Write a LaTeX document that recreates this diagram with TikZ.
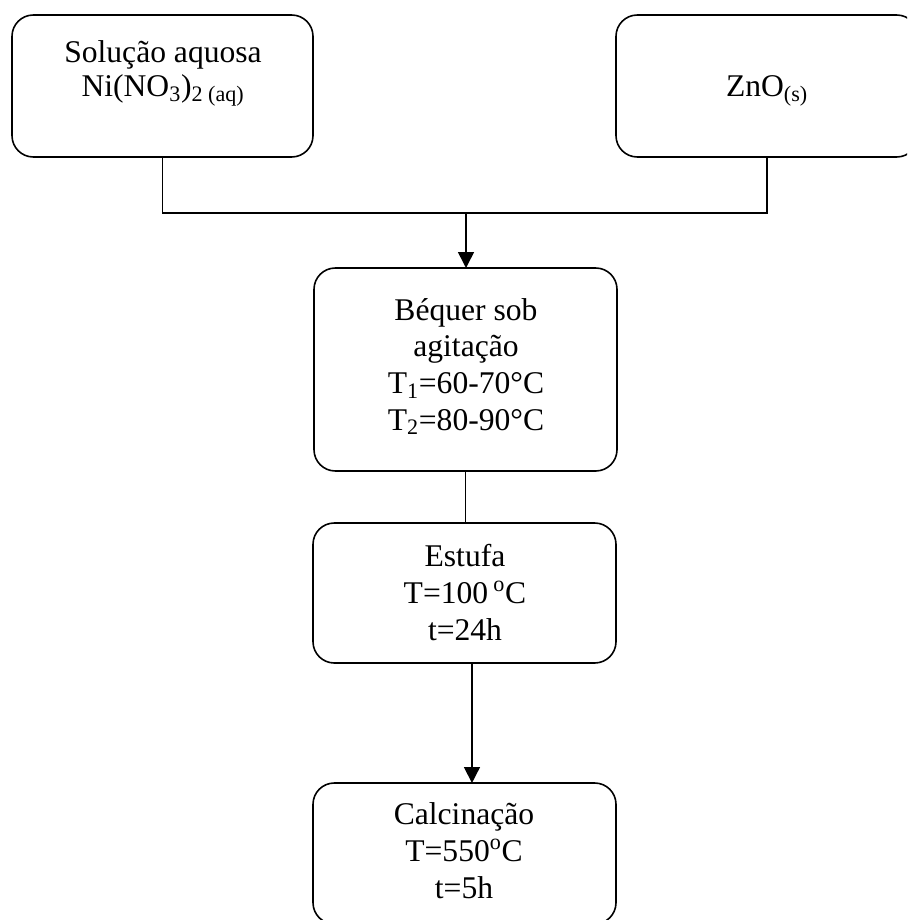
\documentclass[tikz,border=0pt]{standalone}
\usepackage{fontspec}
\setmainfont{Liberation Serif}
\usetikzlibrary{arrows.meta}
\begin{document}
\begin{tikzpicture}[x=0.75pt,y=-0.75pt,
  box/.style={draw,line width=1.2pt,rounded corners=16pt,inner sep=0pt,outer sep=0pt},
  txt/.style={anchor=base,align=center,inner sep=0pt,font=\fontsize{23.7}{27.4}\selectfont},
  conn/.style={line width=1.2pt},
  arr/.style={line width=1.2pt,-{Triangle[length=12pt,width=12pt]}}]
\useasboundingbox (0,0) rectangle (907,920);
\begin{scope}
\clip (0,0) rectangle (907,920);
\node[box,minimum width=225.75pt,minimum height=106.5pt] (b1) at (162.5,86) {};
\node[box,minimum width=226.5pt,minimum height=106.5pt] (b2) at (767,86) {};
\node[box,minimum width=227.25pt,minimum height=152.25pt] (b3) at (465.5,369.5) {};
\node[box,minimum width=227.25pt,minimum height=105pt] (b4) at (464.5,593) {};
\node[box,minimum width=227.25pt,minimum height=105.75pt] (b5) at (464.5,853.5) {};
\end{scope}
\node[txt,font=\fontsize{23.7}{25.5}\selectfont] (t1) at (163,97) {Solução aquosa\\Ni(NO\textsubscript{3})\textsubscript{2 (aq)}};
\node[txt] (t2) at (767,97) {ZnO\textsubscript{(s)}};
\node[txt] (t3) at (466,430) {Béquer sob\\agitação\\T\textsubscript{1}=60-70°C\\T\textsubscript{2}=80-90°C};
\node[txt] (t4) at (465,640) {Estufa\\T=100\,\textsuperscript{o}C\\t=24h};
\node[txt] (t5) at (464,898) {Calcinação\\T=550\textsuperscript{o}C\\t=5h};
\coordinate (j) at (466,213);
\draw[conn] (b1.south) |- (j) -| (b2.south);
\draw[arr] (j) -- (j |- b3.north);
\draw[conn] (b3.south) -- (b3.south |- b4.north);
\draw[arr] ([xshift=5.6pt]b4.south) -- ([xshift=5.6pt]b5.north);
\end{tikzpicture}
\end{document}
